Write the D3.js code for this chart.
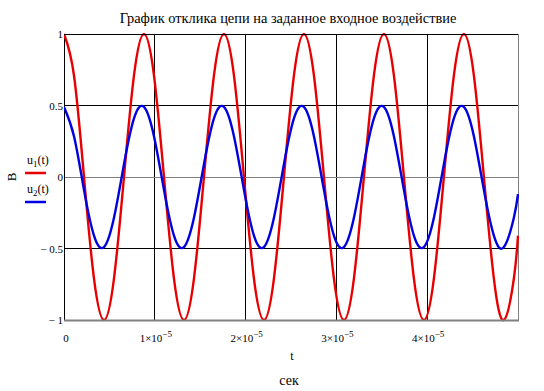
<!DOCTYPE html>
<html><head><meta charset="utf-8">
<script src="https://cdn.jsdelivr.net/npm/d3@7"></script>
<style>
html,body{margin:0;padding:0;background:#fff;}
svg{display:block;}
</style></head>
<body>
<svg id="c" width="544" height="391"></svg>
<script>
// time samples, units of 1e-5 s
const tSamples = [0, 0.1101, 0.2202, 0.3303, 0.4404, 0.5505, 0.6606, 0.7707, 0.8808, 0.9909,
  1.101, 1.2111, 1.3212, 1.4313, 1.5414, 1.6515, 1.7616, 1.8717, 1.9818, 2.0919,
  2.202, 2.3121, 2.4222, 2.5323, 2.6424, 2.7525, 2.8626, 2.9727, 3.0828, 3.1929,
  3.303, 3.4131, 3.5232, 3.6333, 3.7434, 3.8535, 3.9636, 4.0737, 4.1838, 4.2939,
  4.404, 4.5141, 4.6242, 4.7343, 4.8444, 4.9545, 5.0];
const u1 = [1, 0.71, 0, -0.71, -1, -0.71, 0, 0.71,
  1, 0.71, 0, -0.71, -1, -0.71, 0, 0.71,
  1, 0.71, 0, -0.71, -1, -0.71, 0, 0.71,
  1, 0.71, 0, -0.71, -1, -0.71, 0, 0.71,
  1, 0.71, 0, -0.71, -1, -0.71, 0, 0.71,
  1, 0.71, 0, -0.71, -1, -0.71, -0.41];
const u2 = [0.49, 0.285, -0.09, -0.41, -0.49, -0.285, 0.09, 0.41,
  0.49, 0.285, -0.09, -0.41, -0.49, -0.285, 0.09, 0.41,
  0.49, 0.285, -0.09, -0.41, -0.49, -0.285, 0.09, 0.41,
  0.49, 0.285, -0.09, -0.41, -0.49, -0.285, 0.09, 0.41,
  0.49, 0.285, -0.09, -0.41, -0.49, -0.285, 0.09, 0.41,
  0.49, 0.285, -0.09, -0.41, -0.49, -0.285, -0.12];
const xTicks = [0, 1, 2, 3, 4];           // ×1e-5 s
const xTickMant = ["0", "1", "2", "3", "4"];
const yTicks = [-1, -0.5, 0, 0.5, 1];
const yTickLabels = ["\u2212 1", "\u2212 0.5", "0", "0.5", "1"];
const title = "График отклика цепи на заданное входное воздействие";
const seriesNames = ["1", "2"];

const FONT = "Liberation Serif";
const svg = d3.select("#c");
const txt = (sel) => sel.append("text").attr("font-family", FONT);
const L = 64, R = 518, T = 34, B = 320;
const x = d3.scaleLinear().domain([0, 5]).range([L, R]);
const y = d3.scaleLinear().domain([-1, 1]).range([B, T]);

// grid
const g = svg.append("g");
xTicks.filter(v => v > 0).forEach(v => {
  g.append("line").attr("x1", x(v)).attr("x2", x(v)).attr("y1", T).attr("y2", B)
    .attr("stroke", "#000").attr("stroke-width", 1).attr("shape-rendering", "crispEdges");
});
yTicks.forEach(v => {
  if (v === -1) return;
  g.append("line").attr("x1", L).attr("x2", R).attr("y1", y(v)).attr("y2", y(v))
    .attr("stroke", v === 0 ? "#808080" : "#000").attr("stroke-width", 1).attr("shape-rendering", "crispEdges");
});
// border
g.append("line").attr("x1", L).attr("x2", L).attr("y1", T).attr("y2", B).attr("stroke", "#000").attr("shape-rendering", "crispEdges");
g.append("line").attr("x1", R).attr("x2", R).attr("y1", T).attr("y2", B).attr("stroke", "#808080").attr("shape-rendering", "crispEdges");

// series
const line = d3.line().x((d, i) => x(tSamples[i])).y(d => y(d)).curve(d3.curveNatural);
svg.append("clipPath").attr("id", "clp").append("rect")
  .attr("x", L).attr("y", T - 3).attr("width", R - L + 1).attr("height", B - T + 6);
svg.append("path").datum(u1).attr("d", line).attr("fill", "none")
  .attr("stroke", "#e80000").attr("stroke-width", 2.4).attr("clip-path", "url(#clp)");
svg.append("path").datum(u2).attr("d", line).attr("fill", "none")
  .attr("stroke", "#0000e0").attr("stroke-width", 2.4).attr("clip-path", "url(#clp)");

// top and bottom borders over
svg.append("line").attr("x1", L).attr("x2", R).attr("y1", T).attr("y2", T).attr("stroke", "#000").attr("shape-rendering", "crispEdges");
svg.append("line").attr("x1", L).attr("x2", R + 1).attr("y1", B + 0.5).attr("y2", B + 0.5).attr("stroke", "#808080").attr("stroke-width", 2);

// y tick labels
yTicks.forEach((v, i) => {
  txt(svg).attr("x", 63).attr("y", y(v) + 4).attr("text-anchor", "end")
    .attr("font-size", 11).text(yTickLabels[i]);
});
// x tick labels
xTicks.forEach((v, i) => {
  const t = txt(svg).attr("x", x(v) + (v === 0 ? 2 : 1)).attr("y", 342)
    .attr("text-anchor", "middle").attr("font-size", 11);
  if (v === 0) { t.text("0"); return; }
  t.append("tspan").text(xTickMant[i] + "\u00d710");
  t.append("tspan").attr("dy", -5).attr("font-size", 9).text("\u22125");
});

// title
txt(svg).attr("x", 288).attr("y", 23).attr("text-anchor", "middle")
  .attr("font-size", 14.4).text(title);
// axis titles
txt(svg).attr("x", 292).attr("y", 360).attr("text-anchor", "middle").attr("font-size", 12).text("t");
txt(svg).attr("x", 289).attr("y", 385).attr("text-anchor", "middle").attr("font-size", 14).text("сек");
txt(svg).attr("transform", "translate(16,177) rotate(-90)").attr("text-anchor", "middle")
  .attr("font-size", 13).text("В");

// legend
const legColors = ["#e80000", "#0000e0"];
const legY = [164, 193];
seriesNames.forEach((n, i) => {
  const t = txt(svg).attr("x", 27).attr("y", legY[i]).attr("font-size", 12);
  t.append("tspan").text("u");
  t.append("tspan").attr("dy", 3).attr("font-size", 9).text(n);
  t.append("tspan").attr("dy", -3).text("(t)");
  svg.append("line").attr("x1", 25).attr("x2", 46).attr("y1", legY[i] + 9).attr("y2", legY[i] + 9)
    .attr("stroke", legColors[i]).attr("stroke-width", 2.5);
});
</script>
</body></html>
